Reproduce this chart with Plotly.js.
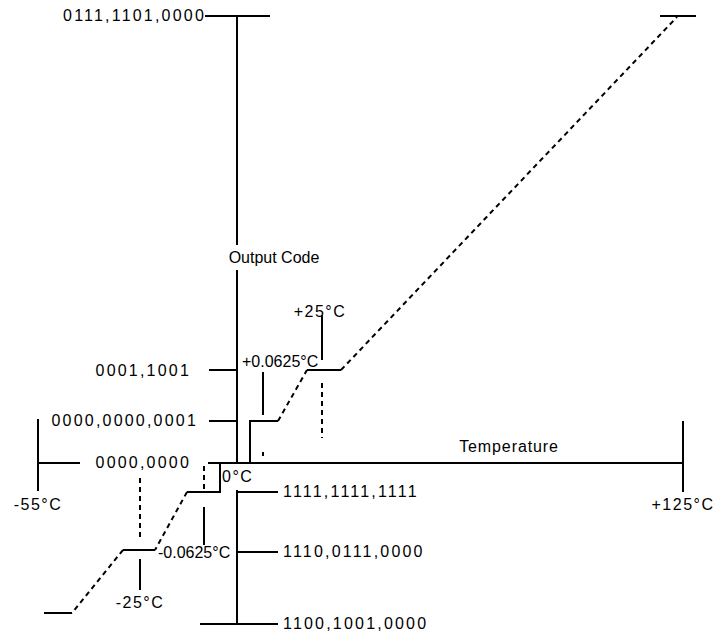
<!DOCTYPE html>
<html>
<head>
<meta charset="utf-8">
<script src="https://cdn.plot.ly/plotly-3.0.1.min.js"></script>
<style>
html,body{margin:0;padding:0;background:#fff;}
#chart{width:715px;height:637px;}
</style>
</head>
<body>
<div id="chart"></div>
<script>
// ---- Tick / label text ----
const codeLabels = ['0111,1101,0000', '0001,1001', '0000,0000,0001', '0000,0000',
                    '1111,1111,1111', '1110,0111,0000', '1100,1001,0000'];
const tempLabels = ['-55°C', '-25°C', '-0.0625°C', '0°C', '+0.0625°C', '+25°C', '+125°C'];
const axisTitles = ['Output Code', 'Temperature'];

// ---- Schematic coordinates (diagram units, y grows downward) ----
// axes, end ticks and code ticks (solid)
const axisX = [237,237,null, 237,237,null, 205,270,null, 209,237,null, 209,237,null,
               38,80,null, 208,683,null, 38,38,null, 683,683,null,
               237,237,null, 237,278,null, 237,278,null, 200,278];
const axisY = [16,245,null, 270,463,null, 16,16,null, 370,370,null, 421,421,null,
               463,463,null, 463,463,null, 419,491,null, 421,492,null,
               490,624,null, 492,492,null, 552,552,null, 624,624];
// transfer-function steps (solid)
const stepX = [250,250,278,null, 307,341,null, 660,696,null,
               220,220,187,null, 155,123,null, 72,44];
const stepY = [463,421,421,null, 370,370,null, 16,16,null,
               463,492,492,null, 550,550,null, 613,613];
// transfer-function ramps (dashed)
const rampX = [278,307,null, 341,677,null, 187,155,null, 123,72];
const rampY = [421,370,null, 370,17,null, 492,550,null, 550,613];
// callout leaders (solid)
const leaderX = [263,263,null, 322,322,null, 204,204,null, 140,140,null, 263,263];
const leaderY = [372,415,null, 315,360,null, 507,545,null, 559,590,null, 452,456];
// guide lines (dashed)
const guideX = [322,322,null, 204,204,null, 140,140];
const guideY = [383,438,null, 466,491,null, 478,541];

// label anchor positions
const rightTextX = [206, 191, 198, 191];
const rightTextY = [17, 372, 422, 464];
const leftText = [codeLabels[4], codeLabels[5], codeLabels[6], tempLabels[3], tempLabels[2], tempLabels[4]];
const leftTextX = [283, 283, 283, 222, 158, 242];
const leftTextY = [493, 553, 625, 478, 554, 363];
const midText = [axisTitles[0], axisTitles[1], tempLabels[0], tempLabels[6], tempLabels[5], tempLabels[1]];
const midTextX = [274, 509, 38, 683, 320, 140];
const midTextY = [259, 448, 506, 506, 313, 604];

const ink = '#000000';
const font = {family: 'Liberation Sans, Arial, sans-serif', size: 16, color: ink};

const traces = [
  {x: axisX, y: axisY, mode: 'lines', line: {color: ink, width: 2}, hoverinfo: 'skip'},
  {x: stepX, y: stepY, mode: 'lines', line: {color: ink, width: 2}, hoverinfo: 'skip'},
  {x: rampX, y: rampY, mode: 'lines', line: {color: ink, width: 2, dash: '5px,4px'}, hoverinfo: 'skip'},
  {x: leaderX, y: leaderY, mode: 'lines', line: {color: ink, width: 2}, hoverinfo: 'skip'},
  {x: guideX, y: guideY, mode: 'lines', line: {color: ink, width: 2, dash: '5px,4px'}, hoverinfo: 'skip'},
  {x: rightTextX, y: rightTextY, text: codeLabels.slice(0, 4), mode: 'text', textposition: 'middle left', textfont: font, hoverinfo: 'skip'},
  {x: leftTextX, y: leftTextY, text: leftText, mode: 'text', textposition: 'middle right', textfont: font, hoverinfo: 'skip'},
  {x: midTextX, y: midTextY, text: midText, mode: 'text', textposition: 'middle center', textfont: font, hoverinfo: 'skip'}
];

const layout = {
  width: 715, height: 637,
  margin: {l: 0, r: 0, t: 0, b: 0},
  paper_bgcolor: '#ffffff', plot_bgcolor: '#ffffff',
  showlegend: false,
  xaxis: {range: [0, 715], visible: false, fixedrange: true},
  yaxis: {range: [637, 0], visible: false, fixedrange: true}
};

function spacingFor(s) {
  if (codeLabels.indexOf(s) >= 0) return '2.2px';
  if (s === axisTitles[1]) return '0.9px';
  if (s === axisTitles[0]) return '0px';
  if (s === tempLabels[2] || s === tempLabels[4]) return '0px';
  return '1.5px';
}

Plotly.newPlot('chart', traces, layout, {displayModeBar: false, staticPlot: true}).then(function(gd){
  gd.querySelectorAll('.textpoint text').forEach(function(t){
    t.style.letterSpacing = spacingFor(t.textContent);
  });
});
</script>
</body>
</html>
